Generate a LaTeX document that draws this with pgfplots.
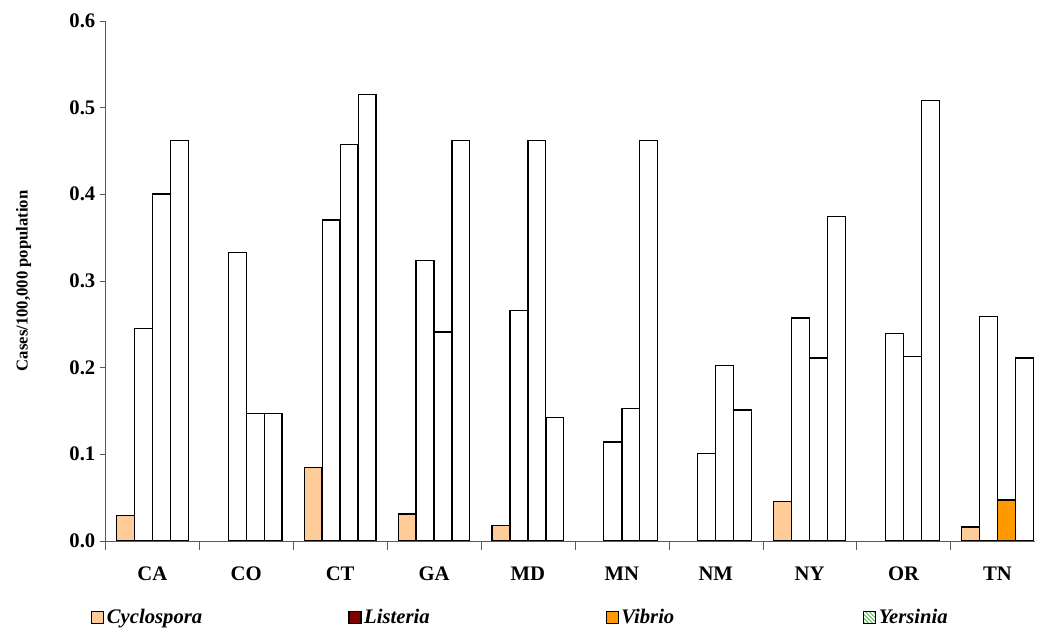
\documentclass[border=0pt]{standalone}
\usepackage{pgfplots}
\pgfplotsset{compat=1.18}
\usepackage{fontspec}
\setmainfont{Liberation Serif}
\usetikzlibrary{patterns}
\begin{document}
\begin{tikzpicture}
\begin{axis}[
  scale only axis, width=697pt, height=390pt,
  axis lines*=left, axis line style={gray!70!black},
  ymin=0, ymax=0.6, ytick={0,0.1,...,0.6},
  xmin=-0.5, xmax=9.4,
  yticklabel style={/pgf/number format/.cd,fixed,fixed zerofill,precision=1},
  /pgf/number format/assume math mode=true,
  ticklabel style={font=\fontsize{15.5}{17}\selectfont\bfseries},
  tick align=outside, major tick length=4pt, tick style={gray!70!black},
  xtick={0,...,9}, xticklabels={CA,CO,CT,GA,MD,MN,NM,NY,OR,TN},
  xtick style={draw=none}, xticklabel style={yshift=-12pt},
  extra x ticks={-0.5,0.5,1.5,...,8.5}, extra x tick labels={},
  extra x tick style={xtick style={draw=gray!70!black}, major tick length=7pt},
  ylabel={Cases/100,000 population},
  ylabel style={font=\fontsize{12.5}{14}\selectfont\bfseries, at={(axis description cs:-0.088,0.5)}, anchor=center},
  ybar, bar width=0.19,
  every axis plot/.append style={line width=0.9pt},
  legend image code/.code={\draw[#1, line width=0.9pt] (0pt,-4.5pt) rectangle (9pt,4.5pt);},
  legend style={at={(-0.02,-0.148)}, anchor=west, draw=none, legend columns=4, fill=none,
    nodes={text width=80pt, align=left, font=\fontsize{15.5}{17}\selectfont\bfseries\itshape},
    /tikz/every even column/.append style={column sep=99pt}},
]
\addlegendimage{fill={rgb,255:red,255;green,204;blue,153}, draw=black}
\addlegendentry{Cyclospora}
\addlegendimage{fill={rgb,255:red,128;green,0;blue,0}, draw=black}
\addlegendentry{Listeria}
\addlegendimage{fill={rgb,255:red,255;green,153;blue,0}, draw=black}
\addlegendentry{Vibrio}
\addlegendimage{pattern=north west lines, pattern color=green!60!black, draw=black}
\addlegendentry{Yersinia}
\addplot[forget plot, bar shift=-0.287, draw=black, fill={rgb,255:red,255;green,204;blue,153}] coordinates {
(0,0.029)(2,0.085)(3,0.031)(4,0.018)(7,0.045)(9,0.016)};
\addplot[forget plot, bar shift=-0.096, draw=black, fill=white] coordinates {
(0,0.245)(1,0.333)(2,0.37)(3,0.323)(4,0.266)(5,0.114)(6,0.101)(7,0.257)(8,0.239)(9,0.259)};
\addplot[forget plot, bar shift=0.096, draw=black, fill=white] coordinates {
(0,0.40)(1,0.147)(2,0.457)(3,0.241)(4,0.462)(5,0.153)(6,0.202)(7,0.211)(8,0.213)};
\addplot[forget plot, bar shift=0.096, draw=black, fill={rgb,255:red,255;green,153;blue,0}] coordinates {
(9,0.047)};
\addplot[forget plot, bar shift=0.287, draw=black, fill=white] coordinates {
(0,0.462)(1,0.147)(2,0.515)(3,0.462)(4,0.142)(5,0.462)(6,0.151)(7,0.374)(8,0.508)(9,0.211)};
\end{axis}
\pgfresetboundingbox
\path (current axis.south west) ++(-79pt,-70.5pt) rectangle ++(779pt,476pt);
\end{tikzpicture}
\end{document}
